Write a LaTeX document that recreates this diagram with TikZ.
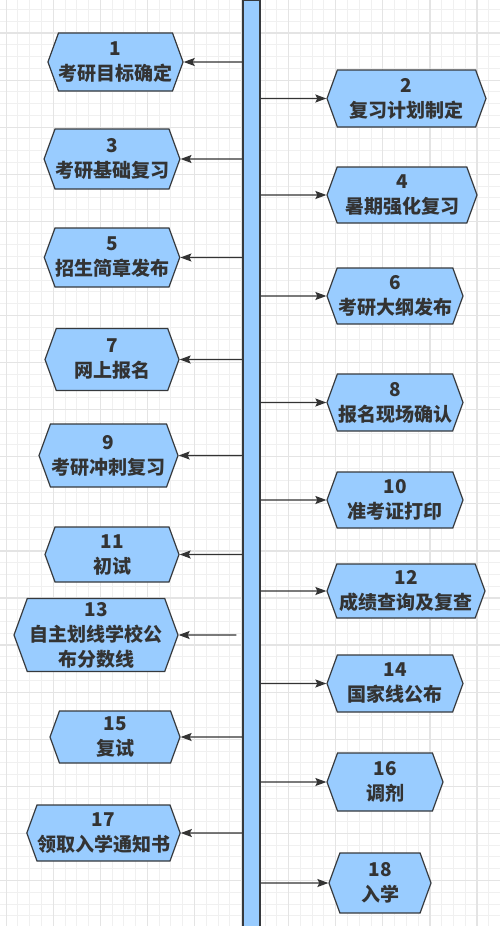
\documentclass[tikz,border=0pt]{standalone}
\usepackage{fontspec}
\setmainfont{Noto Sans CJK SC}
\usepackage{tikz}
\usepackage{xcolor}
\usetikzlibrary{arrows.meta, shapes.symbols}
\definecolor{cfill}{HTML}{99CCFF}
\definecolor{cline}{HTML}{36393D}
\definecolor{ctext}{HTML}{333333}
\definecolor{cgridmin}{HTML}{F0F0F0}
\definecolor{cgridmaj}{HTML}{E4E4E4}
\tikzset{
  hexbox/.style 2 args={
    signal, signal to=east and west, signal pointer angle=140,
    draw=cline, fill=cfill, line width=1.2pt,
    text=ctext, font=\fontsize{19pt}{25pt}\selectfont\bfseries,
    minimum width=#1, minimum height=#2,
    align=center, inner sep=0pt,
  },
  barbox/.style={
    draw=cline, fill=cfill, line width=1.2pt,
    minimum width=17pt, minimum height=929.5pt, inner sep=0pt,
  },
  arr/.style={
    -{Stealth[length=11pt,width=8pt,inset=2pt]},
    line width=1.2pt, color=ctext,
  },
  gridmin/.style={cgridmin, line width=1pt},
  gridmaj/.style={cgridmaj, line width=1.2pt},
}

\begin{document}
\begin{tikzpicture}[x=1pt, y=-1pt]

%% ── background grid ───────────────────────────────────────
\fill[white] (0,0) rectangle (500,926);
\useasboundingbox (0,0) rectangle (500,926);
\foreach \i in {0,...,42} {
  \pgfmathsetmacro\gx{6.2+11.77*\i}
  \draw[gridmin] (\gx,0) -- (\gx,926);
}
\foreach \i in {0,...,78} {
  \pgfmathsetmacro\gy{9.5+11.77*\i}
  \draw[gridmin] (0,\gy) -- (500,\gy);
}
\foreach \i in {0,...,10} {
  \pgfmathsetmacro\gx{6.2+47.08*\i}
  \draw[gridmaj] (\gx,0) -- (\gx,926);
}
\foreach \i in {0,...,19} {
  \pgfmathsetmacro\gy{33.04+47.08*\i}
  \draw[gridmaj] (0,\gy) -- (500,\gy);
}

%% ── time line ─────────────────────────────────────────────
\node[barbox] (timeline) at (251.5,465.25) {};

%% ── left column ───────────────────────────────────────────
\node[hexbox={135pt}{58pt}] (s1)  at (115.5,62)  {1\\考研目标确定};
\node[hexbox={134pt}{60pt}] (s3)  at (112,159)   {3\\考研基础复习};
\node[hexbox={134pt}{59pt}] (s5)  at (112,257.5) {5\\招生简章发布};
\node[hexbox={134pt}{62pt}] (s7)  at (112,359.5) {7\\网上报名};
\node[hexbox={139pt}{63pt}] (s9)  at (108.5,455.5) {9\\考研冲刺复习};
\node[hexbox={134pt}{55pt}] (s11) at (112,554.5) {11\\初试};
\node[hexbox={164pt}{73pt}] (s13) at (96,635)    {13\\自主划线学校公\\布分数线};
\node[hexbox={130pt}{52pt}] (s15) at (115,737)   {15\\复试};
\node[hexbox={153pt}{56pt}] (s17) at (103.5,833) {17\\领取入学通知书};

%% ── right column ──────────────────────────────────────────
\node[hexbox={159pt}{57pt}] (s2)  at (406.5,98.5) {2\\复习计划制定};
\node[hexbox={150pt}{56pt}] (s4)  at (402,195)    {4\\暑期强化复习};
\node[hexbox={136pt}{56pt}] (s6)  at (395,296)    {6\\考研大纲发布};
\node[hexbox={136pt}{57pt}] (s8)  at (395,402.5)  {8\\报名现场确认};
\node[hexbox={136pt}{56pt}] (s10) at (395,500)    {10\\准考证打印};
\node[hexbox={158pt}{54pt}] (s12) at (406,591)    {12\\成绩查询及复查};
\node[hexbox={136pt}{57pt}] (s14) at (395,683.5)  {14\\国家线公布};
\node[hexbox={116pt}{58pt}] (s16) at (385,782)    {16\\调剂};
\node[hexbox={102pt}{60pt}] (s18) at (380,883)    {18\\入学};

%% ── arrows ────────────────────────────────────────────────
\foreach \s in {s1,s3,s5,s7,s9,s11,s15,s17}
  \draw[arr] (timeline.west |- \s) -- (\s);
\draw[arr] ([xshift=-6pt]timeline.west |- s13) -- (s13);
\foreach \s in {s2,s4,s6,s8,s10,s12,s14,s16,s18}
  \draw[arr] (timeline.east |- \s) -- (\s);

\end{tikzpicture}
\end{document}
